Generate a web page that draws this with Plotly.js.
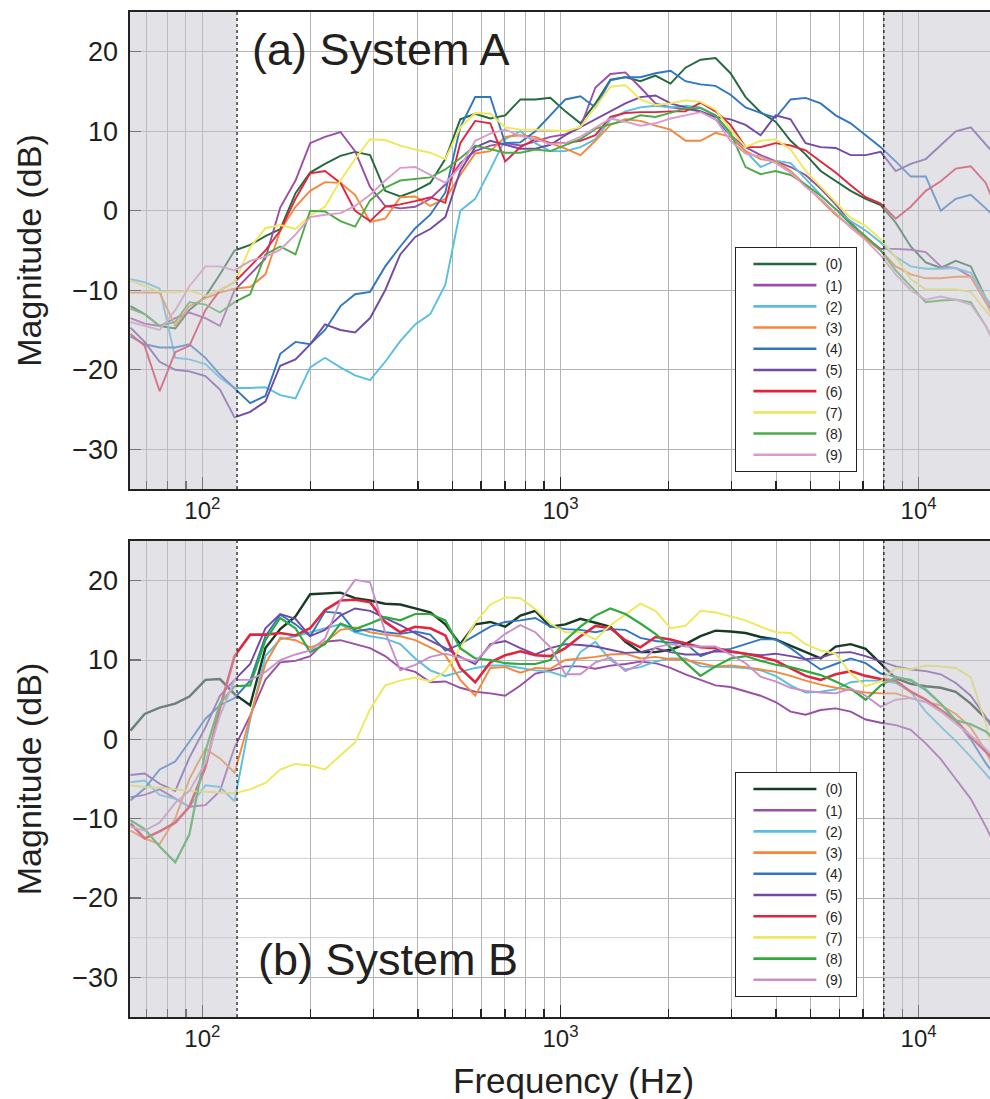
<!DOCTYPE html>
<html><head><meta charset="utf-8">
<script src="https://cdn.plot.ly/plotly-3.0.1.min.js"></script>
<style>body{margin:0;background:#fff}</style>
</head><body>
<div id="chart" style="width:990px;height:1099px"></div>
<script>
// Frequency grid (Hz)
const freq = [63,69,76,84,92,102,112,123,136,150,165,182,200,220,243,267,294,324,357,393,433,477,525,578,637,701,773,851,937,1032,1137,1252,1379,1518,1672,1842,2029,2234,2461,2710,2985,3288,3621,3988,4392,4837,5328,5868,6462,7117,7839,8633,9508,10472,11534,12703,13990,15408,16000];
const seriesNames = ['(0)','(1)','(2)','(3)','(4)','(5)','(6)','(7)','(8)','(9)'];
const xTickVals = [100,1000,10000];
const xTickText = ['10<sup>2</sup>','10<sup>3</sup>','10<sup>4</sup>'];
const xMinorVals = [70,80,90,200,300,400,500,600,700,800,900,2000,3000,4000,5000,6000,7000,8000,9000];
const yTickVals = [-30,-20,-10,0,10,20];

// System A (dB)
const sysA0 = [-12,-13,-14.5,-14.8,-12.5,-10.8,-8,-5,-4.3,-3.2,-2.3,2.2,4.8,5.9,6.9,7.4,7,2.5,1.8,2.5,3.5,6.5,11.5,12.2,11.6,12,14,14,14.2,12.5,11,13.5,16.5,16.8,16.3,17,16,18,19,19.2,17.3,14.3,12.4,11.2,8.8,7.1,5,3.8,2.5,1.5,0.7,-1.5,-4.5,-6.5,-7.2,-6.3,-7,-11,-12];
const sysA1 = [-13.5,-14.2,-14.5,-13.5,-12.8,-13.5,-14.5,-10,-8,-6,0.4,3.8,8.5,9.3,9.9,7.5,3,0.6,0.3,0.5,1.5,3.3,6,7.5,8.2,8.5,8.2,8.7,9.3,9.6,10.5,15.5,17.2,17.4,15.5,13.5,13,12.8,12.5,11.5,9.5,8,7,6.2,5.5,4.5,2.8,0.8,-1.5,-3.3,-4.8,-4.8,-4.9,-5.2,-7,-7.2,-8.3,-11.5,-12.5];
const sysA2 = [-8.6,-9,-9.8,-18.5,-18.7,-19.3,-21,-22.3,-22.3,-22.2,-23.2,-23.6,-19.7,-18.5,-19.7,-20.7,-21.3,-19,-16.4,-14.3,-13,-9.3,0,1.5,5.2,9,10,8.5,7.5,7.5,8,9,11.5,12.5,13,13.2,13,13.2,13,12,9.5,7.5,5.5,6.3,6,4,2,0.2,-1.3,-2.5,-4,-5.8,-7,-7.3,-7.3,-7.2,-7.8,-11,-12];
const sysA3 = [-10.3,-10.3,-10.3,-14.5,-12,-11,-10.3,-9.8,-9.6,-8,-2.5,0.5,2.5,3.6,3.5,2,-1.4,-1,1.7,1.8,0.6,1.5,4.5,7.2,7.5,9.3,9.5,9.3,8.5,7.8,7,8.8,10.8,11.5,11.3,10.7,10.2,8.8,8.8,9.8,9.3,7.5,6.5,6.2,5,3.2,1.3,-0.5,-2,-3.5,-5,-7,-8,-8.5,-8.5,-8.3,-8.3,-11.5,-13];
const sysA4 = [-15.8,-16.8,-17.2,-17.2,-16.8,-18.5,-20.6,-22.3,-24.2,-23.3,-18,-16.5,-16.8,-15,-12,-10.5,-10.2,-7,-4.5,-2.2,-0.5,2.3,10.5,14.3,14.3,8.5,8.6,10,12,14,14.4,13,16.4,16.8,16.8,17.3,17.6,16.3,15.9,15.7,14.6,13,12.3,11.7,14,14.2,13.5,12,11,9.5,8,6.2,4.3,4.3,0,1.5,2,0.3,-0.4];
const sysA5 = [-14.7,-16.5,-19,-20,-20.2,-20.8,-22.5,-26,-25.3,-24,-19.5,-18.7,-16.8,-14.3,-15,-15.3,-13.5,-10,-5.5,-3.3,-2.3,-0.8,5,8,8.8,8.3,7.8,7.8,8.3,9.5,10.5,11.5,12.5,13.5,14.3,14.5,13.5,13,12.5,11.8,11.5,10.8,9.5,12,11.5,8.5,8,7.9,7,7,7.4,5,5.9,6.5,8.2,10,10.5,8.3,7.5];
const sysA6 = [-15.5,-17,-22.7,-17.8,-17,-12.5,-10,-9,-7,-5,-2.5,1.5,4.7,5,3.5,0,-1.3,0.5,0.8,1.2,1.7,1,8.5,11.3,11,6.2,8,9,8.5,8.5,8.8,9.5,11.8,12.3,12.4,12.4,12.5,12.5,13.6,12.5,10.8,8,8,8.5,8.2,7.6,6.2,4.8,3.2,1.7,0.9,-1,0.5,2.5,3.7,5.3,5.6,3.5,1.7];
const sysA7 = [-8.8,-9.5,-10.2,-10.3,-10,-10.7,-10,-9,-4.6,-2.2,-1.8,-2.3,-0.6,0.5,3.8,6.5,9,8.9,8.2,7.7,7.3,6.5,10.5,12.3,12.2,10.5,10.2,10.2,10.1,10,10.5,13,15.6,15.8,14,13.3,13.5,13.9,13.7,12.7,10.2,8,8.8,9,7.7,5,3,1.1,-0.9,-1.9,-3.6,-5.8,-8.6,-9.9,-9.9,-9.9,-10.2,-12.5,-13.5];
const sysA8 = [-12.3,-13,-14.5,-14,-11.5,-11.8,-12.8,-11.5,-10.5,-5.5,-4.5,-5.5,0,-0.1,-1.3,-2,1.3,2.9,3.8,4,4.2,5.2,6.6,8.2,7.7,7.3,7.3,7.7,7.5,8.3,9,10.3,10.9,11.3,12,11.8,12.3,12.9,12.9,12,9.8,5.5,4.6,5,4.5,3.3,1.9,0.2,-1.7,-3.2,-5,-7.5,-9.5,-11.5,-11.3,-11.2,-11.5,-14.5,-16];
const sysA9 = [-14,-14.5,-15,-12.5,-9.5,-7,-7,-7.5,-6.3,-5.8,-4.9,-3,-0.8,-0.5,-0.3,0.6,2,3.8,5.4,5.5,4.5,3.5,5.5,8.8,9.7,10.2,9.4,9,8.4,8.5,9.3,10.5,11.6,11.2,10.7,11,11.6,12,12.4,11.5,8.8,7.2,6.8,6,4.8,3,1.5,-0.3,-2.1,-3.7,-5.6,-8,-10,-11.2,-10.8,-11.2,-11.8,-14.5,-16];

// System B (dB)
const sysB0 = [1.1,3.2,4,4.5,5.4,7.5,7.6,5.7,4.3,11.5,13.9,15.5,18.3,18.4,18.5,17.8,17.5,17.1,17,16.5,16,14.5,12,14.5,14.8,14.2,15.6,16.2,14.2,14.5,15.2,14.7,14.2,12.3,11,11,11.3,12,13,13.7,13.6,13.4,12.9,12.6,11.8,11,10.2,11.7,12,11.4,9.5,7.7,7,6.7,6.5,6,4.5,2.6,2];
const sysB1 = [-7.3,-7,-6.3,-7.5,-8.5,-8.3,-6.5,-1,3,7.5,9.7,9.9,10.5,12.3,12.5,12,11.5,10.5,9,8.5,7.2,7.3,6.5,6,5.8,5.5,6.8,8.3,8.7,9.2,9.2,8.9,9.3,9.5,9.8,9.6,9,8.2,7.5,6.8,6.6,6,5.5,4.7,3.5,3.1,3.7,3.9,3.5,2.5,2.1,1.8,1.2,-0.5,-2.5,-5,-7.5,-11,-12.5];
const sysB2 = [-5.4,-5.2,-7,-7.5,-8.5,-5.8,-6,-7.8,2.5,10.5,12.6,13,13.5,14,14.5,13.5,13,12.7,12,10.2,8.7,8,8.5,9,9.3,9.3,9,8.7,8.5,7.9,11,12.3,10,8.8,9.1,9.8,10.2,10.2,9.2,9.1,9.1,9,8.7,8,6.8,5.9,6,6.3,7.2,7.4,7.4,7.1,6,3.5,1.6,-0.2,-2.2,-4.3,-5.2];
const sysB3 = [-11.5,-12.5,-13.2,-10,-5,-1.2,-2.4,-4.2,2.8,9.5,12.8,12.5,11.6,12.2,13.8,14.1,13.5,13.2,13,12.5,11.6,10.6,7.5,5.5,9,9.1,8.4,9,8.9,10,10.2,10.4,10.7,10.8,10.2,10.4,10.1,10,9.6,9.2,9.3,9.1,8.8,8.5,8,7.4,6.9,6.5,6.2,5.9,5.8,5.8,5.2,4.7,4.3,3.2,1.5,-1.5,-3];
const sysB4 = [-7.7,-6.2,-3.8,-2.8,-0.3,2.6,4.3,5.2,7.4,13,15.7,14.5,13,16.1,15.9,13.6,13.9,13.5,13.3,13.6,13.2,11.2,12,13.1,14.2,14.8,15,15.3,14.2,13.9,13.8,13.5,13.9,13.8,12.8,12.4,12.2,12.1,10.5,11.2,11.4,12,12.6,12.6,11.5,10.1,8.8,9.5,10.2,9.6,8.3,7.9,7.4,6.2,4.5,2.4,0,-3,-4];
const sysB5 = [-4.5,-4.3,-5.6,-6.5,-2.3,1.5,5.5,7.5,9.5,14,15.8,15.2,13,13.8,15.6,16.5,16.2,15.3,14.4,13.4,12.5,11.5,10.4,9.5,12,12.4,11.5,10.7,11.5,12,11.9,11.7,11.3,10.9,11,11.5,11,10.7,10.7,11.1,11,10.8,10.6,10.8,10.5,10.1,10.3,10.9,11,10.5,9.8,9.2,8.8,8.6,8.2,7.1,5.5,2.8,1.5];
const sysB6 = [-10.6,-12.5,-11.6,-10.5,-8.5,-3.5,4,10.5,13.2,13.2,13.4,13.1,14,16.3,17.5,17.6,17.3,14.8,13.5,14.2,14,13.1,9,7.2,9.7,10.6,11.1,10.6,10.5,11.5,13,14.3,14,12.5,11.6,12.9,12.6,12.1,11.6,11.5,11.1,10.8,10.4,9.9,9,8,7.5,8.2,8.6,8,7.6,7.4,6,5,3.7,2.4,0.3,-1.6,-2.3];
const sysB7 = [-5.8,-6,-6.1,-6.3,-6.5,-6.6,-6.7,-6.8,-6.3,-5.5,-3.8,-3.1,-3.3,-3.8,-2,-0.4,3.8,6.8,7.4,7.8,7.3,8.6,11.5,14.7,17,17.9,17.8,16.4,14.6,13.5,13.5,12.6,14.4,15.8,17.1,16.2,14,14.3,16.2,16,15.5,15,14.2,13.5,13.4,12,11.2,10.8,8.3,6.7,7.3,9,8.8,9.3,9.2,9,7.8,2,-1];
const sysB8 = [-10.2,-11.3,-13.5,-15.5,-12,-1.5,4.5,6.7,6.8,12.5,15.3,14,11,12,14.6,13.9,14.6,15.4,15,15.8,15.8,15,11.5,10.2,10,9.6,9.5,9.5,10,12.5,14.2,15.6,16.5,15.8,14.6,13.3,11.6,9.7,8,9.2,10.2,10.5,9.9,9.4,9.1,8.6,8.1,7.3,6.4,5,6.8,7.8,7.5,6.3,4.5,2.4,1.9,1,0.3];
const sysB9 = [-11,-11.5,-10.5,-8,-6.5,-3,3,7.5,7.5,8.5,10,10.7,11.2,12.7,17.5,20.1,19.8,13.5,8.7,9.4,10.4,10.8,10.3,9.8,11.8,13.3,14.4,13.5,11.6,8.2,8.2,9.7,10.3,8.6,9.5,11.6,12,11.7,11.7,11.7,10.7,9.6,7.9,7.3,6.5,6.1,5.9,5.8,6.4,5.5,4.1,5,5.2,4.7,3.5,2,0.5,-1.2,-2];

const sysA = [sysA0,sysA1,sysA2,sysA3,sysA4,sysA5,sysA6,sysA7,sysA8,sysA9];
const sysB = [sysB0,sysB1,sysB2,sysB3,sysB4,sysB5,sysB6,sysB7,sysB8,sysB9];

const colorsA = ['#23693c','#9a4ea8','#58bfe0','#f5883a','#2f77c2','#7349a6','#e0263f','#eee85a','#4aab47','#d99ccb'];
const colorsB = ['#173a22','#9a4ea8','#58bfe0','#f5883a','#2f77c2','#7349a6','#e0263f','#eee85a','#2faa3c','#c98fc8'];
const widthsA = [1.9,1.9,1.9,1.9,1.9,1.9,1.9,1.9,1.9,1.9];
const widthsB = [2.4,1.9,1.9,1.9,1.9,1.9,2.6,1.9,2.2,1.9];

const FONT = 'Liberation Sans, Arial, Helvetica, sans-serif';
const INK = '#231f20';
const GRID = '#b3b3b3';
const PAD = '\u00a0\u00a0';

const traces = [];
sysA.forEach((ys, i) => traces.push({
  x: freq, y: ys, type: 'scatter', mode: 'lines', name: seriesNames[i] + PAD,
  line: {color: colorsA[i], width: widthsA[i]}, xaxis: 'x', yaxis: 'y', legend: 'legend'
}));
sysB.forEach((ys, i) => traces.push({
  x: freq, y: ys, type: 'scatter', mode: 'lines', name: seriesNames[i] + PAD,
  line: {color: colorsB[i], width: widthsB[i]}, xaxis: 'x2', yaxis: 'y2', legend: 'legend2'
}));

const lo = Math.log10(62.8), hi = Math.log10(15830);
const fx = v => (Math.log10(v) - lo) / (hi - lo);

function xAxis(anchor) {
  return {
    type: 'log', range: [lo, hi], anchor: anchor, domain: [0, 1],
    tickmode: 'array', tickvals: xTickVals, ticktext: xTickText,
    ticks: 'inside', ticklen: 12, tickwidth: 1.2, tickcolor: '#222',
    showgrid: true, gridcolor: GRID, gridwidth: 1,
    minor: {tickmode: 'array', tickvals: xMinorVals, ticks: 'inside', ticklen: 8,
            tickwidth: 1.2, tickcolor: '#222', showgrid: true, gridcolor: GRID, gridwidth: 1},
    showline: true, linecolor: '#222', linewidth: 1.6, mirror: true,
    tickfont: {size: 24, color: INK, family: FONT}, zeroline: false
  };
}
function yAxis(anchor, domain) {
  return {
    range: [-35, 25], anchor: anchor, domain: domain,
    tickmode: 'array', tickvals: yTickVals,
    ticks: 'inside', ticklen: 11, tickwidth: 1.2, tickcolor: '#222',
    showgrid: true, gridcolor: GRID, gridwidth: 1, zeroline: false,
    showline: true, linecolor: '#222', linewidth: 1.6,
    ticklabelstandoff: 5,
    tickfont: {size: 27, color: INK, family: FONT},
    title: {text: 'Magnitude (dB)', font: {size: 34, color: INK, family: FONT}, standoff: 20}
  };
}

const shade = 'rgba(198,198,208,0.5)';
const shapes = [];
[['x','y'],['x2','y2']].forEach(([xa, ya]) => {
  shapes.push({type:'rect', xref: xa+' domain', yref: ya+' domain', x0: 0, x1: fx(125), y0: 0, y1: 1, fillcolor: shade, line: {width: 0}, layer: 'above'});
  shapes.push({type:'rect', xref: xa+' domain', yref: ya+' domain', x0: fx(8000), x1: 1, y0: 0, y1: 1, fillcolor: shade, line: {width: 0}, layer: 'above'});
  [125, 8000].forEach(v => shapes.push({type:'line', xref: xa+' domain', yref: ya+' domain', x0: fx(v), x1: fx(v), y0: 0, y1: 1, line: {color: '#111', width: 1.2, dash: '3px,3px'}, layer: 'above'}));
});
[-15, -25].forEach(v => shapes.push({type:'line', xref:'x2 domain', yref:'y2', x0: 0, x1: 1, y0: v, y1: v, line: {color: '#cfcfcf', width: 1}, layer: 'below'}));

const legendBase = {
  xanchor: 'left', yanchor: 'top', bgcolor: '#ffffff', bordercolor: '#222', borderwidth: 1.4,
  font: {size: 14, color: INK, family: FONT}, itemwidth: 79, tracegroupgap: 0
};

const layout = {
  width: 990, height: 1099,
  margin: {l: 130, r: 0, t: 12, b: 82},
  paper_bgcolor: '#fff', plot_bgcolor: '#fff',
  font: {family: FONT, color: INK},
  showlegend: true,
  xaxis: xAxis('y'),
  yaxis: yAxis('x', [0.5254, 1]),
  xaxis2: xAxis('y2'),
  yaxis2: yAxis('x2', [0, 0.4736]),
  legend: Object.assign({x: 0.7035, y: 0.7662}, legendBase),
  legend2: Object.assign({x: 0.7035, y: 0.2438}, legendBase),
  shapes: shapes,
  annotations: [
    {text: '(a) System A', xref: 'paper', yref: 'paper', x: 0.1395, y: 0.9622, xanchor: 'left', yanchor: 'middle', showarrow: false, font: {size: 45, color: INK, family: FONT}},
    {text: '(b) System B', xref: 'paper', yref: 'paper', x: 0.1465, y: 0.0577, xanchor: 'left', yanchor: 'middle', showarrow: false, font: {size: 45, color: INK, family: FONT}},
    {text: 'Frequency (Hz)', xref: 'paper', yref: 'paper', x: 0.516, y: -0.0627, xanchor: 'center', yanchor: 'middle', showarrow: false, font: {size: 35, color: INK, family: FONT}}
  ]
};

Plotly.newPlot('chart', traces, layout, {displayModeBar: false, staticPlot: true}).then(gd => {
  // lengthen the legend sample strokes to match the reference key
  gd.querySelectorAll('g.legendlines path').forEach(p => {
    p.setAttribute('d', 'M17,0h63');
    p.style.strokeWidth = '2.6px';
  });
});
</script>
</body></html>
